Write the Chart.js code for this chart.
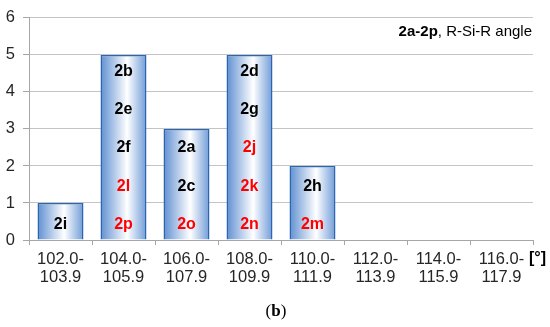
<!DOCTYPE html>
<html>
<head>
<meta charset="utf-8">
<script src="https://cdn.jsdelivr.net/npm/chart.js@4"></script>
<style>
  html, body { margin: 0; padding: 0; background: #fff; }
  #wrap { width: 550px; height: 327px; }
</style>
</head>
<body>
<div id="wrap"><canvas id="chart" width="550" height="327"></canvas></div>
<script>
const categories = [['102.0-', '103.9'], ['104.0-', '105.9'], ['106.0-', '107.9'], ['108.0-', '109.9'],
                    ['110.0-', '111.9'], ['112.0-', '113.9'], ['114.0-', '115.9'], ['116.0-', '117.9']];
const counts = [1, 5, 3, 5, 2, 0, 0, 0];
// compound names inside each bar, bottom to top
const barNames = [['2i'], ['2p', '2l', '2f', '2e', '2b'], ['2o', '2c', '2a'], ['2n', '2k', '2j', '2g', '2d'], ['2m', '2h'], [], [], []];
const redNames = ['2j', '2k', '2l', '2m', '2n', '2o', '2p'];
const yTicks = [0, 1, 2, 3, 4, 5, 6];

const sans = "'Liberation Sans', Arial, sans-serif";

function barFill(ctx) {
  const chart = ctx.chart;
  const x = chart.scales.x;
  if (!chart.chartArea || !x) return '#8fb1e0';
  const cx = x.getPixelForValue(ctx.dataIndex);
  const half = (x.width / categories.length) * 0.73 / 2;
  const g = chart.ctx.createLinearGradient(cx - half, 0, cx + half, 0);
  g.addColorStop(0, '#5f8fd1');
  g.addColorStop(0.58, '#ffffff');
  g.addColorStop(1, '#6f9bd8');
  return g;
}

// texts drawn on top: names in bars, note, unit, panel letter
const extraText = {
  id: 'extraText',
  afterDatasetsDraw(chart) {
    const c = chart.ctx;
    const x = chart.scales.x, y = chart.scales.y;
    c.save();
    c.textBaseline = 'middle';
    c.textAlign = 'center';
    c.font = 'bold 16px ' + sans;
    barNames.forEach((names, i) => {
      names.forEach((n, k) => {
        c.fillStyle = redNames.includes(n) ? '#ff0000' : '#000000';
        const v = k * 1.03 + 0.45;
        c.fillText(n, x.getPixelForValue(i), y.getPixelForValue(v) + 1);
      });
    });

    // note at top right
    c.textAlign = 'left';
    c.font = '15px ' + sans;
    const rest = ', R-Si-R angle';
    const wRest = c.measureText(rest).width;
    c.font = 'bold 15px ' + sans;
    const wBold = c.measureText('2a-2p').width;
    const right = chart.chartArea.right - 1;
    c.fillStyle = '#000';
    c.fillText('2a-2p', right - wRest - wBold, 32);
    c.font = '15px ' + sans;
    c.fillText(rest, right - wRest, 32);

    // unit
    c.font = 'bold 16px ' + sans;
    c.fillText('[°]', chart.chartArea.right - 4, 259);

    // panel letter
    const serif = "'Liberation Serif', 'Times New Roman', serif";
    c.font = '17px ' + serif;
    const wp = c.measureText('(').width;
    c.font = 'bold 17px ' + serif;
    const wb = c.measureText('b').width;
    const total = wp * 2 + wb;
    let px = 276 - total / 2;
    c.font = '17px ' + serif;
    c.fillText('(', px, 312);
    c.font = 'bold 17px ' + serif;
    c.fillText('b', px + wp, 312);
    c.font = '17px ' + serif;
    c.fillText(')', px + wp + wb, 312);
    c.restore();
  }
};

new Chart(document.getElementById('chart'), {
  type: 'bar',
  data: {
    labels: categories,
    datasets: [{
      data: counts,
      backgroundColor: barFill,
      borderColor: '#2d66b0',
      borderWidth: 1.5,
      barPercentage: 0.73,
      categoryPercentage: 1.0
    }]
  },
  options: {
    responsive: false,
    animation: false,
    layout: { padding: { top: 11, right: 17, left: 0, bottom: 29 } },
    plugins: {
      legend: { display: false },
      tooltip: { enabled: false }
    },
    scales: {
      x: {
        afterFit: s => { s.height = 58; },
        grid: {
          offset: true,
          drawOnChartArea: false,
          drawTicks: true,
          tickLength: 5,
          tickColor: '#a6a6a6'
        },
        border: { color: '#a6a6a6', width: 1 },
        ticks: {
          color: '#262626',
          font: { family: sans, size: 16.5, lineHeight: 1.1 },
          maxRotation: 0,
          autoSkip: false,
          padding: 5
        }
      },
      y: {
        min: 0,
        max: 6,
        afterFit: s => { s.width = 29; },
        afterBuildTicks: s => { s.ticks = yTicks.map(v => ({ value: v })); },
        grid: {
          color: '#c4c4c4',
          tickColor: '#a6a6a6',
          tickLength: 6
        },
        border: { color: '#a6a6a6', width: 1 },
        ticks: {
          color: '#262626',
          font: { family: sans, size: 16.5 },
          padding: 8
        }
      }
    }
  },
  plugins: [extraText]
});
</script>
</body>
</html>
